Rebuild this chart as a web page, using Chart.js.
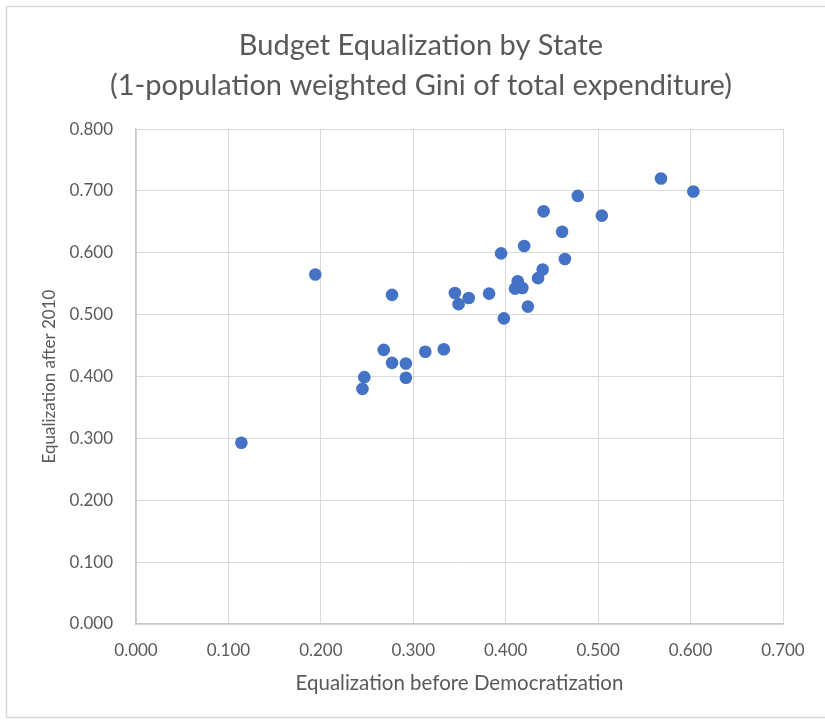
<!DOCTYPE html>
<html>
<head>
<meta charset="utf-8">
<title>Budget Equalization by State</title>
<script src="https://cdn.jsdelivr.net/npm/chart.js@4.4.1/dist/chart.umd.min.js"></script>
<style>
  html, body { margin: 0; padding: 0; background: #ffffff; }
  #wrap { position: relative; width: 825px; height: 722px; }
  canvas { display: block; }
</style>
</head>
<body>
<div id="wrap"><canvas id="chart" width="825" height="722"></canvas></div>
<script>
// Equalization (1 - population weighted Gini of total expenditure) per state
const equalizationBefore = [
  0.114, 0.194, 0.245, 0.247, 0.268, 0.277, 0.277, 0.292, 0.292, 0.313,
  0.333, 0.345, 0.349, 0.360, 0.382, 0.395, 0.398, 0.410, 0.413, 0.418,
  0.420, 0.424, 0.435, 0.440, 0.441, 0.461, 0.464, 0.478, 0.504, 0.568,
  0.603
];
const equalizationAfter = [
  0.293, 0.565, 0.380, 0.399, 0.443, 0.532, 0.422, 0.421, 0.398, 0.440,
  0.444, 0.535, 0.517, 0.527, 0.534, 0.599, 0.494, 0.542, 0.554, 0.543,
  0.611, 0.513, 0.559, 0.573, 0.667, 0.634, 0.590, 0.692, 0.660, 0.720,
  0.699
];

const chartTitle = ['Budget Equalization by State', '(1-population weighted Gini of total expenditure)'];
const xAxisTitle = 'Equalization before Democratization';
const yAxisTitle = 'Equalization after 2010';
const xTickRange = { min: 0, max: 0.7, step: 0.1 };
const yTickRange = { min: 0, max: 0.8, step: 0.1 };

const points = equalizationBefore.map((x, i) => ({ x: x, y: equalizationAfter[i] }));

const textColor = '#595959';
const gridColor = '#d9d9d9';
const fontFamily = 'Lato, "Open Sans", sans-serif';

// light frame around the whole chart
const chartFrame = {
  id: 'chartFrame',
  beforeDraw(chart) {
    const ctx = chart.ctx;
    ctx.save();
    ctx.fillStyle = '#ffffff';
    ctx.fillRect(0, 0, chart.width, chart.height);
    ctx.strokeStyle = '#d9d9d9';
    ctx.lineWidth = 1.5;
    ctx.strokeRect(6.5, 6.5, chart.width + 10, chart.height - 11);
    ctx.restore();
  }
};

new Chart(document.getElementById('chart'), {
  type: 'scatter',
  data: {
    datasets: [{
      label: 'States',
      data: points,
      backgroundColor: '#4472C4',
      borderColor: '#4472C4',
      borderWidth: 0,
      pointRadius: 6.3,
      pointHoverRadius: 6.3
    }]
  },
  options: {
    responsive: false,
    animation: false,
    layout: { padding: { left: 17, right: 0, top: 0, bottom: 0 } },
    plugins: {
      legend: { display: false },
      tooltip: { enabled: false },
      title: {
        display: true,
        text: chartTitle,
        color: textColor,
        font: { family: fontFamily, size: 29, weight: 'normal', lineHeight: 1.38 },
        padding: { top: 26, bottom: 23 }
      }
    },
    scales: {
      x: {
        type: 'linear',
        min: xTickRange.min,
        max: xTickRange.max,
        ticks: {
          stepSize: xTickRange.step,
          color: textColor,
          font: { family: fontFamily, size: 17 },
          padding: 16,
          callback: v => Number(v).toFixed(3)
        },
        grid: { color: gridColor, lineWidth: 1, drawTicks: false },
        border: { color: '#c8c8c8', width: 1.3 },
        title: {
          display: true,
          text: xAxisTitle,
          color: textColor,
          font: { family: fontFamily, size: 20.5 },
          padding: { top: 0, bottom: 26.5 }
        },
        afterFit(scale) { scale.height = 98; }
      },
      y: {
        type: 'linear',
        position: 'left',
        min: yTickRange.min,
        max: yTickRange.max,
        ticks: {
          stepSize: yTickRange.step,
          color: textColor,
          font: { family: fontFamily, size: 17 },
          padding: 23,
          callback: v => Number(v).toFixed(3)
        },
        grid: { color: gridColor, lineWidth: 1, drawTicks: false },
        border: { color: '#c8c8c8', width: 1.3 },
        title: {
          display: true,
          text: yAxisTitle,
          color: textColor,
          font: { family: fontFamily, size: 17 },
          padding: { top: 22.8, bottom: 0 }
        },
        afterFit(scale) { scale.width = 119; }
      },
      // empty right-hand margin beside the plot area
      yRight: {
        type: 'linear',
        position: 'right',
        min: yTickRange.min,
        max: yTickRange.max,
        ticks: { display: false },
        grid: { display: false, drawTicks: false },
        border: { display: false },
        afterFit(scale) { scale.width = 42; }
      }
    }
  },
  plugins: [chartFrame]
});
</script>
</body>
</html>
